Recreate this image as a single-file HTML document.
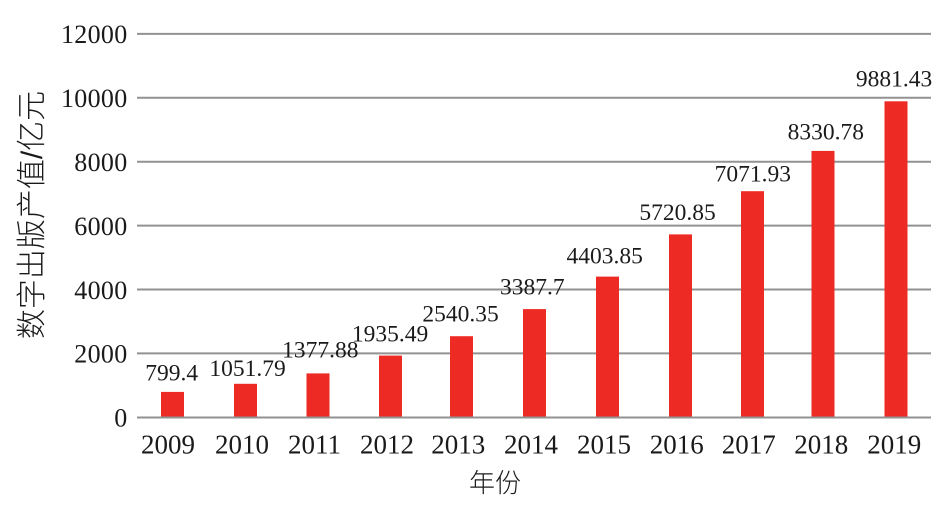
<!DOCTYPE html>
<html>
<head>
<meta charset="utf-8">
<style>
html,body{margin:0;padding:0;background:#fff;}
svg{display:block;}
.t{font-family:"Liberation Serif","Times New Roman",serif;fill:#1a1a1a;}
.c{font-family:"Liberation Sans","Noto Sans CJK SC",sans-serif;fill:#1a1a1a;font-weight:300;}
</style>
</head>
<body>
<svg width="948" height="510" viewBox="0 0 948 510" xmlns="http://www.w3.org/2000/svg">
<rect width="948" height="510" fill="#fff"/>
<!-- gridlines -->
<g stroke="#929292" stroke-width="2">
<line x1="137" x2="931" y1="33.9" y2="33.9"/>
<line x1="137" x2="931" y1="97.8" y2="97.8"/>
<line x1="137" x2="931" y1="161.7" y2="161.7"/>
<line x1="137" x2="931" y1="225.6" y2="225.6"/>
<line x1="137" x2="931" y1="289.5" y2="289.5"/>
<line x1="137" x2="931" y1="353.4" y2="353.4"/>
</g>
<!-- bars -->
<g fill="#EE2A24">
<rect x="161" y="391.9" width="23" height="25.6"/>
<rect x="234" y="383.8" width="23" height="33.7"/>
<rect x="306.5" y="373.4" width="23" height="44.1"/>
<rect x="379" y="355.6" width="23" height="61.9"/>
<rect x="450" y="336.2" width="23" height="81.3"/>
<rect x="523" y="309.1" width="23" height="108.4"/>
<rect x="596" y="276.6" width="23" height="140.9"/>
<rect x="669" y="234.4" width="23" height="183.1"/>
<rect x="741" y="191.2" width="23" height="226.3"/>
<rect x="811.5" y="150.9" width="23" height="266.6"/>
<rect x="884.5" y="101.3" width="23" height="316.2"/>
</g>
<line x1="137" x2="931" y1="417.5" y2="417.5" stroke="#929292" stroke-width="2"/>
<!-- y tick labels -->
<g class="t" font-size="26" text-anchor="end" letter-spacing="0.3">
<text x="127.5" y="43">12000</text>
<text x="127.5" y="107">10000</text>
<text x="127.5" y="171">8000</text>
<text x="127.5" y="235">6000</text>
<text x="127.5" y="299">4000</text>
<text x="127.5" y="362.5">2000</text>
<text x="127.5" y="426.5">0</text>
</g>
<!-- x tick labels -->
<g class="t" font-size="27" text-anchor="middle">
<text x="168" y="453.3">2009</text>
<text x="242" y="453.3">2010</text>
<text x="314.5" y="453.3">2011</text>
<text x="387" y="453.3">2012</text>
<text x="458.3" y="453.3">2013</text>
<text x="531" y="453.3">2014</text>
<text x="604" y="453.3">2015</text>
<text x="676.7" y="453.3">2016</text>
<text x="748.7" y="453.3">2017</text>
<text x="821.3" y="453.3">2018</text>
<text x="894.2" y="453.3">2019</text>
</g>
<!-- data labels -->
<g class="t" font-size="23.5" text-anchor="middle">
<text x="171.7" y="380.7">799.4</text>
<text x="247.5" y="376">1051.79</text>
<text x="320.3" y="357.3">1377.88</text>
<text x="390" y="341.7">1935.49</text>
<text x="460.5" y="321.7">2540.35</text>
<text x="532.3" y="294.3">3387.7</text>
<text x="604.7" y="263.3">4403.85</text>
<text x="677.5" y="220">5720.85</text>
<text x="752.8" y="181.7">7071.93</text>
<text x="825.8" y="139.3">8330.78</text>
<text x="894" y="86.7">9881.43</text>
</g>
<!-- axis titles -->
<text class="c" font-size="26" x="495" y="492" text-anchor="middle">年份</text>
<text class="c" font-size="30" text-anchor="middle" transform="translate(42,215) rotate(-90)">数字出版产值/亿元</text>
</svg>
</body>
</html>
